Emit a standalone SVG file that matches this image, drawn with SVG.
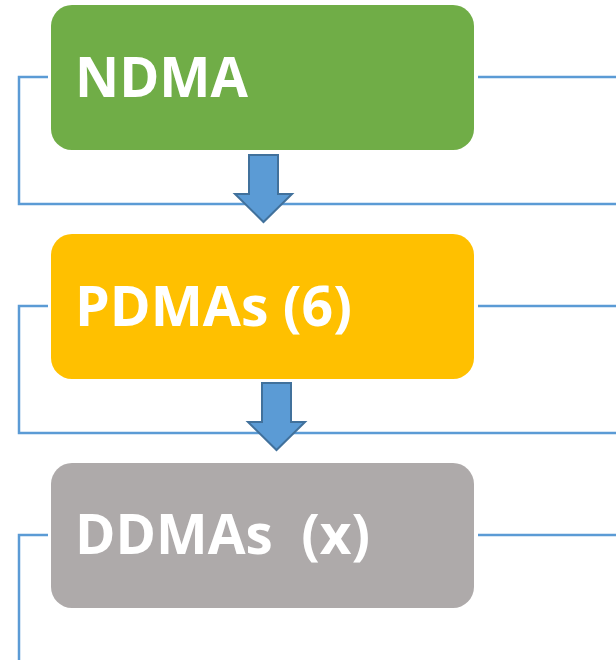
<svg xmlns="http://www.w3.org/2000/svg" width="616" height="660" viewBox="0 0 616 660">
<style>
.box{stroke:none}
.lbl{font-family:"Open Sans","Liberation Sans",sans-serif;font-weight:bold;font-size:56px;fill:#ffffff}
.ln{fill:none;stroke:#5B9BD5;stroke-width:2.5}
.arr{fill:#5B9BD5;stroke:#41719C;stroke-width:2;stroke-linejoin:miter}
</style>
<rect width="616" height="660" fill="#ffffff"/>
<g id="connectors">
<polyline class="ln" points="48,77 19,77 19,204 616,204"/>
<line class="ln" x1="478" y1="77" x2="616" y2="77"/>
<polyline class="ln" points="48,306 19,306 19,433 616,433"/>
<line class="ln" x1="478" y1="306" x2="616" y2="306"/>
<polyline class="ln" points="48,535 19,535 19,660"/>
<line class="ln" x1="478" y1="535" x2="616" y2="535"/>
<path class="arr" d="M249,155 H278 V194 H292 L263.5,222 L235,194 H249 Z"/>
<path class="arr" d="M262,383 H291 V422 H305 L276.5,450 L248,422 H262 Z"/>
</g>
<g id="ndma">
<rect class="box" x="51" y="5" width="423" height="145" rx="21" fill="#70AD47"/>
<text class="lbl" x="75" y="97" textLength="173" lengthAdjust="spacingAndGlyphs">NDMA</text>
</g>
<g id="pdmas">
<rect class="box" x="51" y="234" width="423" height="145" rx="21" fill="#FFC000"/>
<text class="lbl" x="75" y="326" textLength="277" lengthAdjust="spacingAndGlyphs">PDMAs (6)</text>
</g>
<g id="ddmas">
<rect class="box" x="51" y="463" width="423" height="145" rx="21" fill="#AEAAAA"/>
<text class="lbl" x="75" y="554" xml:space="preserve" textLength="295" lengthAdjust="spacingAndGlyphs">DDMAs  (x)</text>
</g>
</svg>
